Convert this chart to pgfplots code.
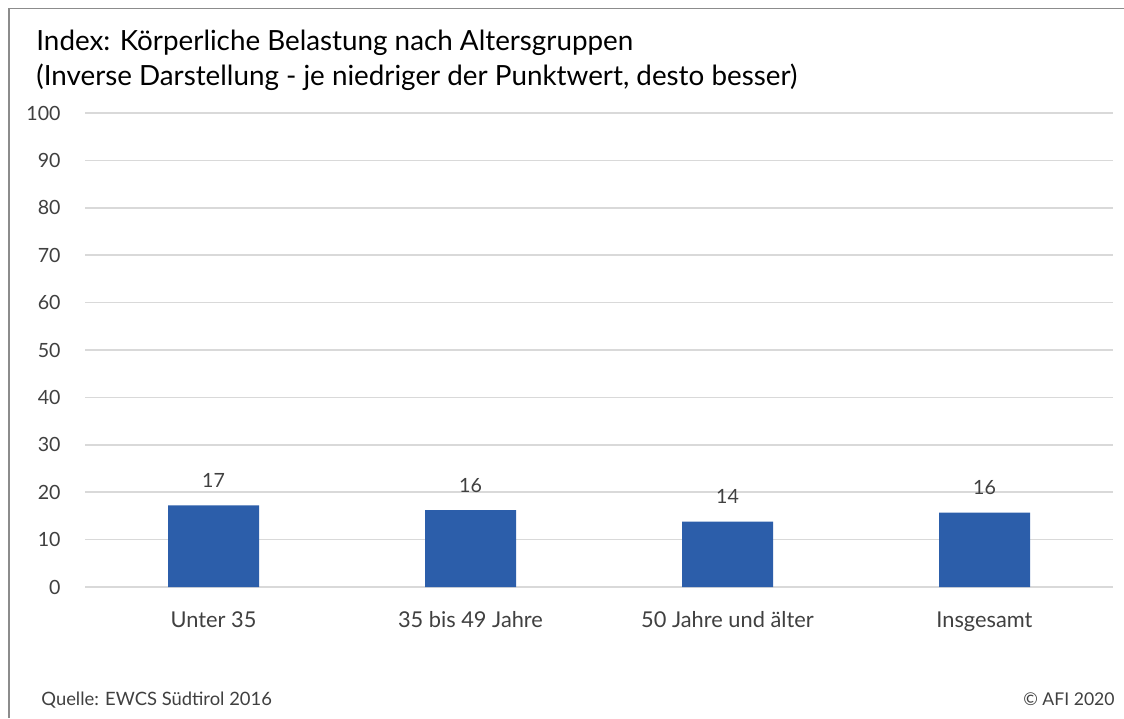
\documentclass[border=0pt]{standalone}
\usepackage{fontspec}
\setmainfont{Lato}
\usepackage{pgfplots}
\pgfplotsset{compat=1.18}
\definecolor{barblue}{HTML}{2C5EAA}
\definecolor{gridgray}{HTML}{D9D9D9}
\definecolor{txt}{HTML}{404040}
\definecolor{framegray}{HTML}{8C8C8C}

\begin{document}
\begin{tikzpicture}[x=1pt,y=1pt]
\useasboundingbox (0,0) rectangle (562,359);
\fill[white] (0,0) rectangle (562,359);
\draw[framegray, line width=0.75pt] (4.5,0) -- (4.5,354.8) -- (562,354.8);

\begin{axis}[
    at={(42.5pt,65.5pt)}, anchor=south west,
    scale only axis, width=514pt, height=237pt,
    xmin=-0.5, xmax=3.5, ymin=0, ymax=100,
    enlargelimits=false,
    axis x line*=bottom, axis y line*=left,
    axis line style={draw=none},
    major tick length=0pt,
    ymajorgrids, grid style={gridgray, line width=0.75pt},
    ytick={0,10,...,100},
    xtick={0,1,2,3},
    xticklabels={Unter 35, 35 bis 49 Jahre, 50 Jahre und älter, Insgesamt},
    /pgf/number format/assume math mode=true,
    ticklabel style={text=txt},
    yticklabel style={font=\fontsize{9.8}{12}\selectfont, anchor=east, inner sep=0pt, xshift=-12pt},
    xticklabel style={font=\fontsize{10.9}{13}\selectfont, anchor=base, inner sep=0pt, yshift=-20pt},
    ybar, bar width=45.5pt,
    nodes near coords={\pgfmathprintnumber[fixed,precision=0,assume math mode=true]{\pgfplotspointmeta}},
    nodes near coords style={anchor=base, inner sep=0pt, yshift=8.9pt,
        font=\fontsize{9.8}{12}\selectfont, text=txt},
]
\addplot[fill=barblue, draw=none] coordinates {
(0,17.2) (1,16.2) (2,13.8) (3,15.7)
};
\end{axis}

\node[anchor=base west, inner sep=0pt, font=\fontsize{13.9}{16}\selectfont] at (18,333.8)
    {Index: Körperliche Belastung nach Altersgruppen};
\node[anchor=base west, inner sep=0pt, font=\fontsize{13.9}{16}\selectfont] at (18,316)
    {(Inverse Darstellung - je niedriger der Punktwert, desto besser)};
\node[anchor=base west, inner sep=0pt, font=\fontsize{9.2}{11}\selectfont, text=txt] at (20.5,6.5)
    {Quelle: EWCS Südtirol 2016};
\node[anchor=base east, inner sep=0pt, font=\fontsize{8.8}{11}\selectfont, text=txt] at (557.5,6.5)
    {© AFI 2020};
\end{tikzpicture}
\end{document}
